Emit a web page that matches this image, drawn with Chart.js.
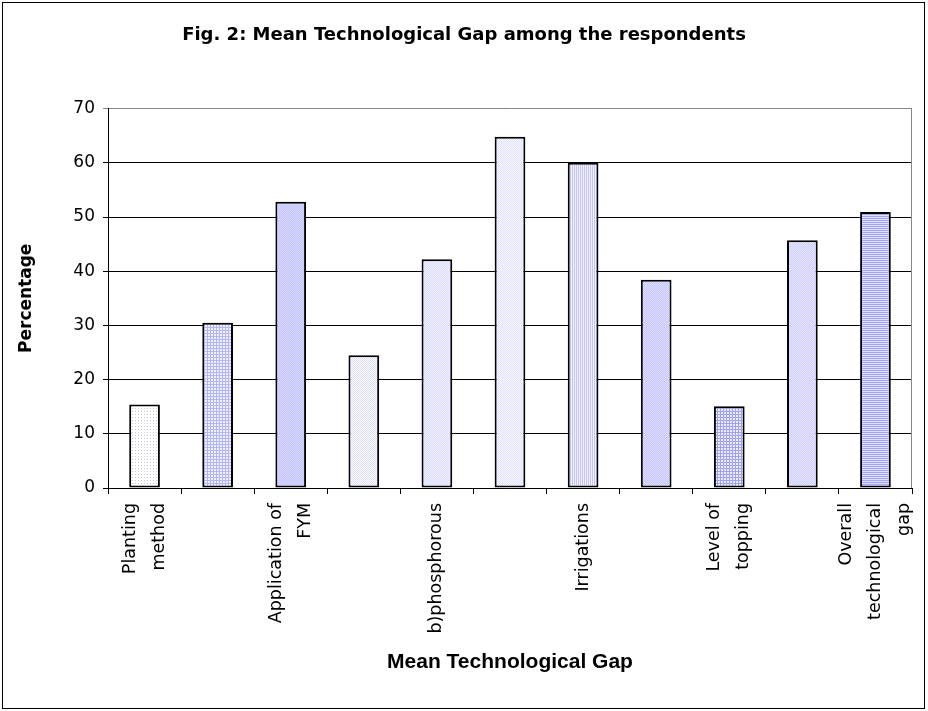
<!DOCTYPE html>
<html>
<head>
<meta charset="utf-8">
<script src="https://cdn.jsdelivr.net/npm/chart.js@4"></script>
<style>
html, body { margin: 0; padding: 0; background: #fff; }
#wrap { width: 928px; height: 711px; position: relative; }
</style>
</head>
<body>
<div id="wrap"><canvas id="gapChart"></canvas></div>
<script>
// data
const categories = [
    ['Planting', 'method'],
    'Seed rate',
    ['Application of', 'FYM'],
    'a)nitrogen',
    'b)phosphorous',
    'c)potash',
    'Irrigations',
    'Plant protection',
    ['Level of', 'topping'],
    'Harvesting',
    ['Overall', 'technological', 'gap']
];
const gapValues = [15.4, 30.5, 52.8, 24.5, 42.2, 64.8, 60.0, 38.4, 15.1, 45.7, 50.9];
const yTicks = [0, 10, 20, 30, 40, 50, 60, 70];

// small hatch tiles, roughly like the office fills
function tile(size, draw) {
    const c = document.createElement('canvas');
    c.width = c.height = size;
    const g = c.getContext('2d');
    draw(g, size);
    return g.createPattern(c, 'repeat');
}
function dots(bg, fg, step) {
    return tile(step, (g) => { g.fillStyle = bg; g.fillRect(0, 0, step, step); g.fillStyle = fg; g.fillRect(0, 0, 1, 1); });
}
function mesh(bg, fg, step) {
    return tile(step, (g) => { g.fillStyle = bg; g.fillRect(0, 0, step, step); g.fillStyle = fg; g.fillRect(0, 0, step, 1); g.fillRect(0, 0, 1, step); });
}
function checker(a, b) {
    return tile(2, (g) => { g.fillStyle = a; g.fillRect(0, 0, 2, 2); g.fillStyle = b; g.fillRect(0, 0, 1, 1); g.fillRect(1, 1, 1, 1); });
}
function vstripes(bg, fg, step) {
    return tile(step, (g) => { g.fillStyle = bg; g.fillRect(0, 0, step, step); g.fillStyle = fg; g.fillRect(0, 0, 1, step); });
}
function hstripes(bg, fg, step) {
    return tile(step, (g) => { g.fillStyle = bg; g.fillRect(0, 0, step, step); g.fillStyle = fg; g.fillRect(0, 0, step, 1); });
}

const barFills = [
    dots('#ffffff', '#c8c8d8', 3),
    mesh('#f0f0ff', '#b4b4f8', 3),
    checker('#c8c8ff', '#d4d4ff'),
    checker('#ffffff', '#dcdcff'),
    checker('#e0e0ff', '#ececff'),
    checker('#f4f4ff', '#e4e4ff'),
    vstripes('#f2f2ff', '#c4c4ff', 2),
    checker('#c8c8ff', '#dcdcff'),
    mesh('#ececff', '#a0a0f4', 3),
    checker('#d0d0ff', '#e4e4ff'),
    hstripes('#e0e0ff', '#a4a4f2', 2)
];

const tickFont = { family: 'DejaVu Sans', size: 17.5 };
const tickLineHeight = 29;

const framePlugin = {
    id: 'frame',
    beforeDraw(chart) {
        const c = chart.ctx;
        c.save();
        c.fillStyle = '#fff';
        c.fillRect(0, 0, chart.width, chart.height);
        c.strokeStyle = '#000';
        c.lineWidth = 1;
        c.strokeRect(2.5, 2.5, 922, 706);
        c.restore();
    },
    beforeDatasetsDraw(chart) {
        const a = chart.chartArea;
        const c = chart.ctx;
        c.save();
        c.strokeStyle = '#888';
        c.lineWidth = 1;
        c.beginPath();
        c.moveTo(Math.round(a.right) - 0.5, a.top);
        c.lineTo(Math.round(a.right) - 0.5, a.bottom);
        c.stroke();
        c.restore();
    },
    // rotated category labels, every other one, centred on the tick like Excel does
    afterDraw(chart) {
        const xs = chart.scales.x;
        const c = chart.ctx;
        const y0 = chart.chartArea.bottom + 15;
        c.save();
        c.fillStyle = '#000';
        c.font = tickFont.size + 'px "' + tickFont.family + '"';
        c.textAlign = 'right';
        c.textBaseline = 'middle';
        categories.forEach((lab, i) => {
            if (i % 2 !== 0) return;
            const lines = Array.isArray(lab) ? lab : [lab];
            const x = xs.getPixelForValue(i);
            c.save();
            c.translate(x, y0);
            c.rotate(-Math.PI / 2);
            lines.forEach((ln, j) => {
                c.fillText(ln, 0, (j - (lines.length - 1) / 2) * tickLineHeight);
            });
            c.restore();
        });
        c.restore();
    }
};

const ctx = document.getElementById('gapChart').getContext('2d');
const gapChart = new Chart(ctx, {
    type: 'bar',
    data: {
        labels: categories,
        datasets: [{
            label: 'Mean Technological Gap',
            data: gapValues,
            backgroundColor: barFills,
            borderColor: '#000',
            borderWidth: 2,
            borderSkipped: false,
            categoryPercentage: 1,
            barPercentage: 0.42
        }]
    },
    plugins: [framePlugin],
    options: {
        responsive: true,
        maintainAspectRatio: false,
        animation: false,
        layout: { padding: { left: 16, right: 16, top: 0, bottom: 0 } },
        plugins: {
            legend: { display: false },
            tooltip: { enabled: false },
            title: {
                display: true,
                text: 'Fig. 2: Mean Technological Gap among the respondents',
                color: '#000',
                font: { family: 'DejaVu Sans', weight: 'bold', size: 18 },
                padding: { top: 25, bottom: 62 }
            }
        },
        scales: {
            x: {
                afterFit: (s) => { s.height = 223; },
                ticks: { display: false },
                grid: { drawOnChartArea: false, drawTicks: true, tickLength: 6, color: '#000', offset: true },
                border: { display: true, color: '#000', width: 1 },
                title: {
                    display: true,
                    text: 'Mean Technological Gap',
                    color: '#000',
                    font: { family: 'Liberation Sans', weight: 'bold', size: 21 },
                    padding: { top: 0, bottom: 36 }
                }
            },
            y: {
                min: 0,
                max: 70,
                afterFit: (s) => { s.width = 92; },
                afterBuildTicks: (s) => { s.ticks = yTicks.map(v => ({ value: v })); },
                ticks: {
                    padding: 8,
                    color: '#000',
                    font: { family: 'DejaVu Sans', size: 17 }
                },
                grid: {
                    color: (c) => (c.tick && c.tick.value === 70 ? '#888' : '#000'),
                    tickLength: 5,
                    lineWidth: 1
                },
                border: { display: true, color: '#000', width: 1 },
                title: {
                    display: true,
                    text: 'Percentage',
                    color: '#000',
                    font: { family: 'DejaVu Sans', weight: 'bold', size: 17 },
                    padding: { top: 0, bottom: 0 }
                }
            }
        }
    }
});
</script>
</body>
</html>
